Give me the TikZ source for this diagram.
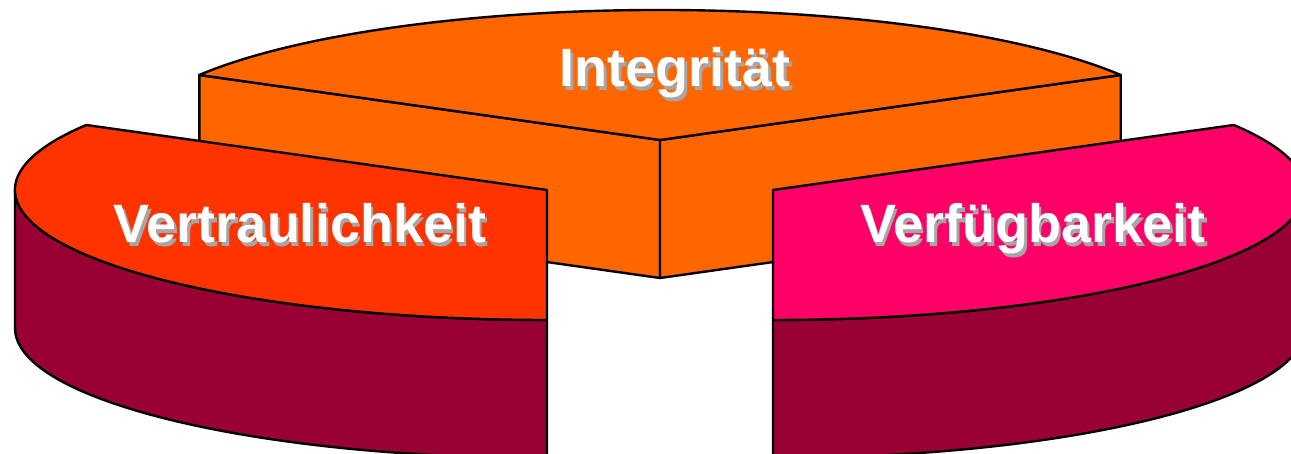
\documentclass[tikz,border=0pt]{standalone}
\usepackage{fontspec}
\setmainfont{Liberation Sans}
% white caption with a grey drop shadow set behind it
\newcommand\dropshadowed[1]{\makebox[0pt][l]{\kern2.5pt\raisebox{-3.5pt}{\textcolor{black!35}{#1}}}#1}
\begin{document}
\definecolor{integ}{HTML}{FF6600}
\definecolor{vertr}{HTML}{FF3300}
\definecolor{verf}{HTML}{FF0066}
\definecolor{wall}{HTML}{990033}
\begin{tikzpicture}[x=1pt,y=1pt,
  edge/.style={draw=black,line width=2.4pt,line join=round},
  label/.style={text=white,font=\fontsize{54}{60}\selectfont\bfseries,anchor=base,inner sep=0pt}]
\clip (0,0) rectangle (1291,454);
\fill[white] (0,0) rectangle (1291,454);

% Integritaet: back slice, its two cut faces and top
\begin{scope}[shift={(660,314)}]
  \fill[integ,edge] (-460.7,65) -- (0,0) -- (0,-138) -- (-460.7,-73) -- cycle;
  \fill[integ,edge] (0,0) -- (460.7,65) -- (460.7,-73) -- (0,-138) -- cycle;
  \fill[integ,edge] (0,0) -- (460.7,65)
    arc[start angle=30,end angle=150,x radius=532pt,y radius=130pt] -- cycle;
\end{scope}

% Vertraulichkeit: left slice
\begin{scope}[shift={(547,264)}]
  \fill[wall,edge] (-532,0)
    arc[start angle=180,end angle=270,x radius=532pt,y radius=130pt]
    -- (0,-268)
    arc[start angle=270,end angle=180,x radius=532pt,y radius=130pt] -- cycle;
  \fill[vertr,edge] (0,0) -- (-460.7,65)
    arc[start angle=150,end angle=270,x radius=532pt,y radius=130pt] -- cycle;
\end{scope}

% Verfuegbarkeit: right slice
\begin{scope}[shift={(773,264)}]
  \fill[wall,edge] (0,-130)
    arc[start angle=270,end angle=360,x radius=532pt,y radius=130pt]
    -- (532,-138)
    arc[start angle=360,end angle=270,x radius=532pt,y radius=130pt] -- cycle;
  \fill[verf,edge] (0,0) -- (0,-130)
    arc[start angle=270,end angle=390,x radius=532pt,y radius=130pt] -- cycle;
\end{scope}

% slice labels
\node[label] (int) at (675,367) {\dropshadowed{Integrität}};
\node[label] (vtr) at (300,211) {\dropshadowed{Vertraulichkeit}};
\node[label] (vfg) at (1033,211) {\dropshadowed{Verfügbarkeit}};
\end{tikzpicture}
\end{document}
